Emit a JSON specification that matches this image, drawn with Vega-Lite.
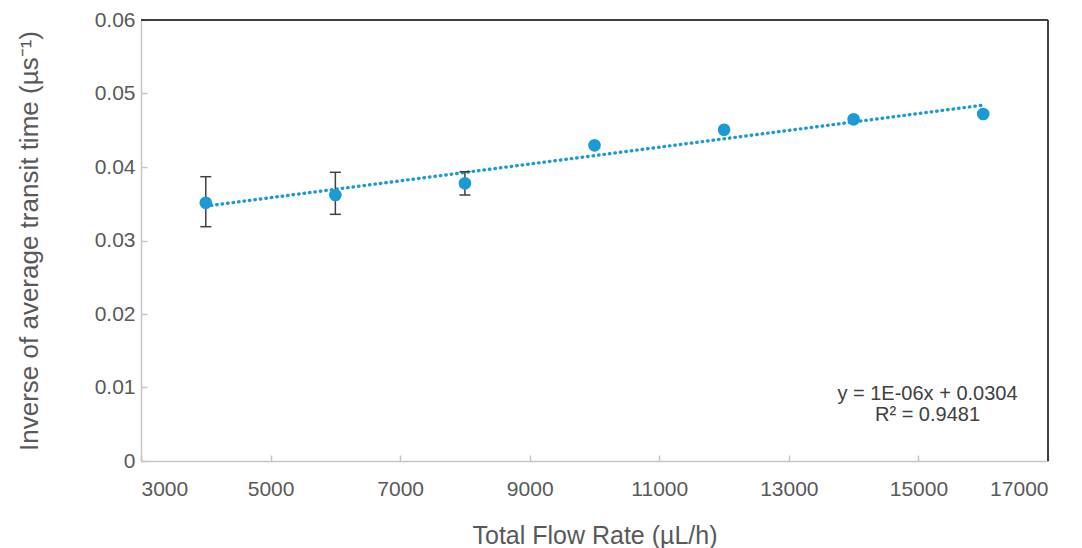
{
  "$schema": "https://vega.github.io/schema/vega-lite/v6.json",
  "width": 907,
  "height": 441,
  "autosize": "none",
  "padding": {"left": 141, "top": 20, "right": 34, "bottom": 87},
  "background": "white",
  "config": {
    "view": {"stroke": null},
    "font": "Liberation Sans",
    "axis": {
      "grid": false,
      "domainColor": "#c6c6c6",
      "domainWidth": 1.5,
      "tickColor": "#c6c6c6",
      "tickWidth": 1.5,
      "tickSize": -6,
      "labelColor": "#595959",
      "labelFontSize": 21,
      "labelFont": "Liberation Sans",
      "titleColor": "#595959",
      "titleFont": "Liberation Sans",
      "titleFontSize": 25,
      "titleFontWeight": "normal"
    }
  },
  "data": {
    "values": [
      {"flow": 4000, "inv": 0.03514, "lo": 0.03188, "hi": 0.03868},
      {"flow": 6000, "inv": 0.03619, "lo": 0.03356, "hi": 0.03928},
      {"flow": 8000, "inv": 0.03778, "lo": 0.03619, "hi": 0.03936},
      {"flow": 10000, "inv": 0.04295},
      {"flow": 12000, "inv": 0.04507},
      {"flow": 14000, "inv": 0.04649},
      {"flow": 16000, "inv": 0.04721}
    ]
  },
  "encoding": {
    "x": {
      "field": "flow",
      "type": "quantitative",
      "scale": {"domain": [3000, 17000], "nice": false, "zero": false},
      "axis": {
        "title": "Total Flow Rate (µL/h)",
        "values": [3000, 5000, 7000, 9000, 11000, 13000, 15000, 17000],
        "format": "d",
        "labelPadding": 23,
        "titlePadding": 24
      }
    },
    "y": {
      "field": "inv",
      "type": "quantitative",
      "scale": {"domain": [0, 0.06], "nice": false},
      "axis": {
        "title": "Inverse of average transit time (µs⁻¹)",
        "titleFontSize": 26,
        "values": [0, 0.01, 0.02, 0.03, 0.04, 0.05, 0.06],
        "format": "~g",
        "labelPadding": 12,
        "titlePadding": 52
      }
    }
  },
  "layer": [
    {
      "transform": [{"filter": "datum.flow == 16000"}],
      "mark": {"type": "rule", "color": "#404040", "strokeWidth": 2},
      "encoding": {"y": {"datum": 0.06}, "x": null}
    },
    {
      "transform": [{"filter": "datum.flow == 16000"}],
      "mark": {"type": "rule", "color": "#404040", "strokeWidth": 2},
      "encoding": {"x": {"datum": 17000}, "y": null}
    },
    {
      "transform": [
        {"regression": "inv", "on": "flow", "extent": [4000, 16000]}
      ],
      "mark": {
        "type": "line",
        "color": "#1c9ad6",
        "strokeWidth": 3.4,
        "strokeDash": [0.5, 5],
        "strokeCap": "round"
      }
    },
    {
      "transform": [{"filter": "isValid(datum.lo)"}],
      "mark": {"type": "rule", "color": "#404040", "strokeWidth": 1.5},
      "encoding": {
        "y": {"field": "lo", "type": "quantitative"},
        "y2": {"field": "hi"}
      }
    },
    {
      "transform": [{"filter": "isValid(datum.lo)"}],
      "mark": {"type": "tick", "orient": "horizontal", "color": "#404040", "size": 11, "thickness": 1.5, "opacity": 1},
      "encoding": {"y": {"field": "lo", "type": "quantitative"}}
    },
    {
      "transform": [{"filter": "isValid(datum.hi)"}],
      "mark": {"type": "tick", "orient": "horizontal", "color": "#404040", "size": 11, "thickness": 1.5, "opacity": 1},
      "encoding": {"y": {"field": "hi", "type": "quantitative"}}
    },
    {
      "mark": {"type": "circle", "color": "#1c9ad6", "size": 160, "opacity": 1}
    },
    {
      "transform": [{"filter": "datum.flow == 16000"}],
      "mark": {
        "type": "text",
        "text": ["y = 1E-06x + 0.0304", "R² = 0.9481"],
        "align": "center",
        "baseline": "middle",
        "fontSize": 20,
        "fontWeight": 400,
        "lineHeight": 21,
        "color": "#404040",
        "font": "Liberation Sans"
      },
      "encoding": {"x": {"datum": 15140}, "y": {"datum": 0.00918}}
    }
  ]
}
